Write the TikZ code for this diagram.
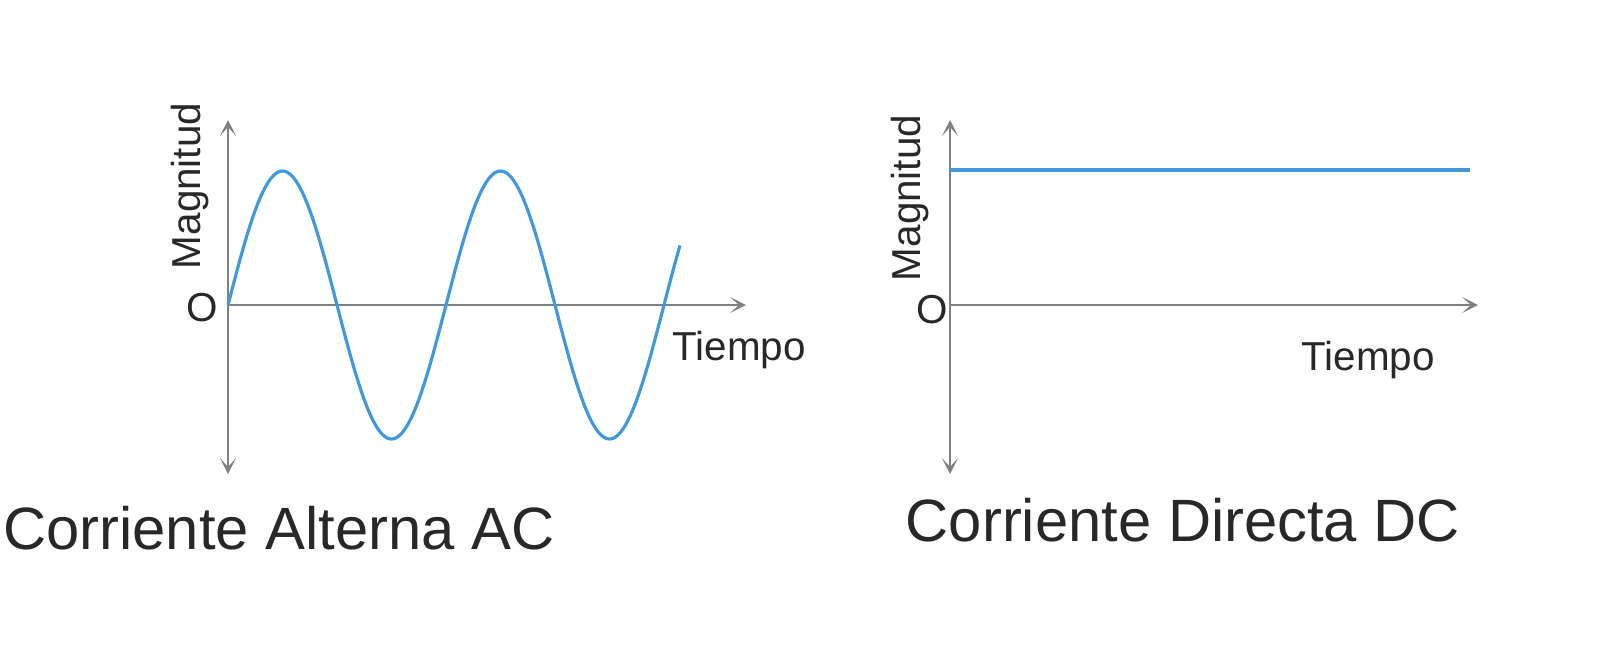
\documentclass[tikz,border=0pt]{standalone}
\usepackage{fontspec}
\setmainfont{Liberation Sans}
\usetikzlibrary{arrows.meta}
\definecolor{axc}{RGB}{128,128,128}
\definecolor{wave}{RGB}{66,152,220}
\definecolor{txt}{RGB}{40,40,40}
\begin{document}
\begin{tikzpicture}[x=0.02cm,y=-0.02cm,
  axis/.style={draw=axc,line width=1.1pt,{Stealth[length=9pt,width=9pt,inset=5pt]}-{Stealth[length=9pt,width=9pt,inset=5pt]}},
  xax/.style={draw=axc,line width=1.1pt,-{Stealth[length=9pt,width=9pt,inset=5pt]}},
  sig/.style={draw=wave,line width=1.8pt},
  lab/.style={text=txt,font=\fontsize{23}{25}\selectfont,inner sep=0pt},
  ttl/.style={text=txt,font=\fontsize{34}{37}\selectfont,inner sep=0pt}]
\useasboundingbox (0,0) rectangle (1600,657);
% AC
\coordinate (a0) at (228,305);
\coordinate (atop) at (228,120);
\coordinate (abot) at (228,474);
\coordinate (aright) at (746,305);
\draw[axis] (abot) -- (atop);
\draw[xax] (a0) -- (aright);
\draw[sig,domain=0:452,samples=200,variable=\t] plot ({228+\t},{305-134*sin(\t/218*360)});
\node[lab] (ao) at (202,308) {O};
\node[lab,rotate=90] (amag) at (190,186) {Magnitud};
\node[lab] (atime) at (739,350) {Tiempo};
\node[ttl,anchor=west] (attl) at (3,528) {Corriente Alterna AC};
% DC
\coordinate (d0) at (950,305);
\coordinate (dtop) at (950,120);
\coordinate (dbot) at (950,474);
\coordinate (dright) at (1478,305);
\coordinate (ds) at (950,170);
\coordinate (de) at (1470,170);
\draw[axis] (dbot) -- (dtop);
\draw[xax] (d0) -- (dright);
\draw[sig] (ds) -- (de);
\node[lab] (do) at (932,310) {O};
\node[lab,rotate=90] (dmag) at (910,198) {Magnitud};
\node[lab] (dtime) at (1368,360) {Tiempo};
\node[ttl] (dttl) at (1183,520) {Corriente Directa DC};
\end{tikzpicture}
\end{document}
